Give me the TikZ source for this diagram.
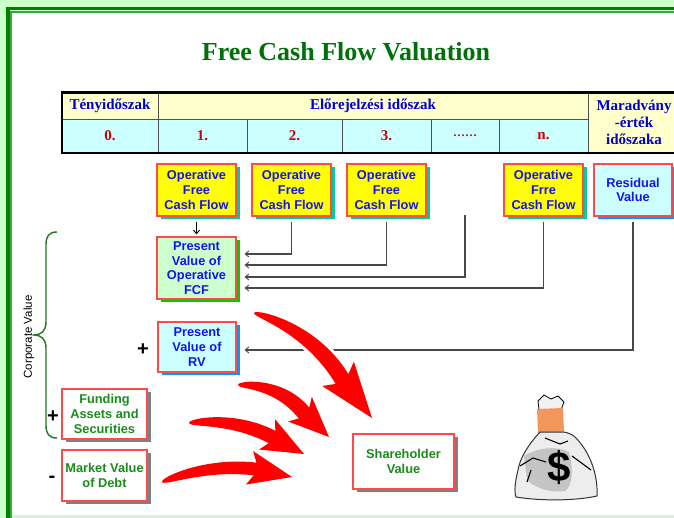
\documentclass[tikz,border=0pt]{standalone}
\usepackage{fontspec}
\setmainfont{Liberation Serif}
\setsansfont{Liberation Sans}
\usetikzlibrary{calc,arrows.meta,shadows}

\definecolor{pagegreen}{HTML}{CCFFCC}
\definecolor{framedark}{HTML}{008000}
\definecolor{framemid}{HTML}{3CA83C}
\definecolor{bottomstrip}{HTML}{DCEEDC}
\definecolor{titlegreen}{HTML}{00700A}
\definecolor{hdryellow}{HTML}{FFFFCC}
\definecolor{cellcyan}{HTML}{CCFFFF}
\definecolor{numred}{HTML}{CC0000}
\definecolor{hdrblue}{HTML}{0000CC}
\definecolor{tablegrid}{HTML}{505050}
\definecolor{boxblue}{HTML}{1414EE}
\definecolor{boxred}{HTML}{FF4A4A}
\definecolor{boxgreen}{HTML}{1A8C1A}
\definecolor{fcfyellow}{HTML}{FFFF00}
\definecolor{pvgreen}{HTML}{CCFFCC}
\definecolor{shadowteal}{HTML}{00CC99}
\definecolor{shadowgreen}{HTML}{00CC00}
\definecolor{shadowblue}{HTML}{0099FF}
\definecolor{shadowgray}{HTML}{808080}
\definecolor{bracegreen}{HTML}{1E7A1E}
\definecolor{linegray}{HTML}{484848}
\definecolor{arrowred}{HTML}{FF0000}
\definecolor{tieorange}{HTML}{F2975C}
\definecolor{baglight}{HTML}{EDEDED}
\definecolor{bagshade}{HTML}{C4C4C4}

\tikzset{
  cell/.style={draw=tablegrid, line width=0.8pt, inner sep=0pt, align=center,
    font=\bfseries\fontsize{15}{17}\selectfont},
  hdrcell/.style={cell, fill=hdryellow, text=hdrblue},
  numcell/.style={cell, fill=cellcyan, text=numred, minimum height=34pt},
  flowbox/.style={draw=boxred, line width=1.2pt, inner sep=0pt, align=center,
    font=\sffamily\bfseries\fontsize{12.8}{14.6}\selectfont},
  fcfbox/.style={flowbox, fill=fcfyellow, text=boxblue, minimum width=79pt, minimum height=52pt,
    drop shadow={shadow xshift=4pt, shadow yshift=-3pt, fill=shadowteal, opacity=1}},
  cyanbox/.style={flowbox, fill=cellcyan, text=boxblue,
    drop shadow={shadow xshift=4pt, shadow yshift=-3pt, fill=shadowblue, opacity=1}},
  pvbox/.style={flowbox, fill=pvgreen, text=boxblue,
    drop shadow={shadow xshift=4pt, shadow yshift=-3pt, fill=shadowgreen, opacity=1}},
  valbox/.style={flowbox, fill=white, text=boxgreen,
    drop shadow={shadow xshift=4pt, shadow yshift=-3pt, fill=shadowgray, opacity=1}},
  conn/.style={draw=linegray, line width=1.4pt,
    -{Straight Barb[length=3.5pt, width=6pt, line width=0.9pt]}},
  signmark/.style={font=\sffamily\bfseries\fontsize{20}{20}\selectfont, inner sep=0pt},
}

% tapered curved red arrow: tail, control, head base, tip, body half-width, head half-width
\newcommand{\flowarrow}[6]{%
  \fill[arrowred, preaction={draw=white, line width=6pt, line join=round}]
    (#1) .. controls ($(#1)!5pt!90:(#2)$) and ($(#2)!#5!90:(#3)$) .. ($(#3)!#5!90:(#4)$)
    -- ($(#3)!#6!108:(#4)$) -- (#4) -- ($(#3)!#6!-108:(#4)$)
    -- ($(#3)!#5!-90:(#4)$) .. controls ($(#2)!#5!-90:(#3)$) and ($(#1)!5pt!-90:(#2)$) .. (#1) -- cycle;}

\begin{document}
\begin{tikzpicture}[x=1pt,y=-1pt]
\useasboundingbox (0,0) rectangle (674,518);
\clip (0,0) rectangle (674,518);

% page frame
\fill[pagegreen] (0,0) rectangle (674,518);
\fill[white] (12,13) rectangle (680,515);
\fill[bottomstrip] (12,515) rectangle (680,518);
\fill[framedark] (6,7) rectangle (9.5,518);
\fill[framedark] (6,7) rectangle (680,10.5);
\fill[framemid] (10.3,11.2) rectangle (11.9,518);
\fill[framemid] (10.3,11.2) rectangle (680,12.9);

% title
\node[font=\bfseries\fontsize{26}{30}\selectfont, text=titlegreen] (title) at (346,52) {Free Cash Flow Valuation};

% period table
\node[hdrcell, minimum width=96pt, minimum height=27pt] (h0) at (110,105.5) {Tényidőszak};
\node[hdrcell, minimum width=430pt, minimum height=27pt] (h1) at (373,105.5) {Előrejelzési időszak};
\node[hdrcell, minimum width=92pt, minimum height=61pt] (h2) at (634,122.5) {Maradvány\\-érték\\időszaka};
\node[numcell, minimum width=96pt] (n0) at (110,136) {0.};
\node[numcell, minimum width=89pt] (n1) at (202.5,136) {1.};
\node[numcell, minimum width=95pt] (n2) at (294.5,136) {2.};
\node[numcell, minimum width=89pt] (n3) at (386.5,136) {3.};
\node[numcell, minimum width=68pt] (n4) at (465,136) {\fontsize{12}{14}\selectfont ……};
\node[numcell, minimum width=89pt] (n5) at (543.5,136) {n.};
\draw[black, line width=2.2pt] (62,92.5) rectangle (690,153);

% cash flow boxes
\node[fcfbox] (f1) at (196.5,190) {Operative\\Free\\Cash Flow};
\node[fcfbox] (f2) at (291.5,190) {Operative\\Free\\Cash Flow};
\node[fcfbox] (f3) at (386.5,190) {Operative\\Free\\Cash Flow};
\node[fcfbox] (f4) at (543.5,190) {Operative\\Frre\\Cash Flow};
\node[cyanbox, minimum width=78pt, minimum height=52pt] (rv) at (633,190) {Residual\\Value};
\coordinate (dotsrc) at (465,215);

% present values
\node[pvbox, minimum width=79pt, minimum height=62pt] (pvf) at (196.5,268) {Present\\Value of\\Operative\\FCF};
\node[cyanbox, minimum width=78pt, minimum height=50pt] (pvr) at (197,347) {Present\\Value of\\RV};

% other value components
\node[valbox, minimum width=85pt, minimum height=50pt] (fund) at (104.5,414) {Funding\\Assets and\\Securities};
\node[valbox, minimum width=85pt, minimum height=51pt] (debt) at (104.5,475.5) {Market Value\\of Debt};
\node[valbox, minimum width=101pt, minimum height=55pt] (sh) at (403.5,461.5) {Shareholder\\Value};

% signs
\node[signmark] (plusrv) at (143,350) {+};
\node[signmark] (plusfund) at (53,417) {+};
\node[signmark] (minusdebt) at (52,479) {-};

% corporate value brace
\draw[bracegreen, line width=1.4pt] (57,232) .. controls (49,232) and (46,236) .. (46,245)
  -- (46,322) .. controls (46,331) and (41,335) .. (34,335)
  .. controls (41,335) and (46,339) .. (46,348)
  -- (46,425) .. controls (46,434) and (49,438) .. (57,438);
\node[rotate=90, font=\sffamily\fontsize{11.5}{13}\selectfont] (corp) at (29,337) {Corporate Value};

% discounting connectors
\draw[black, line width=0.9pt, -{Straight Barb[length=3.5pt, width=6pt]}, shorten <=5pt, shorten >=2pt] (f1.south) -- (pvf.north);
\draw[conn, shorten <=5pt] (f2.south) |- ([xshift=8pt, yshift=14pt]pvf.east);
\draw[conn, shorten <=5pt] (f3.south) |- ([xshift=8pt, yshift=3pt]pvf.east);
\draw[conn] (dotsrc) |- ([xshift=8pt, yshift=-9pt]pvf.east);
\draw[conn, shorten <=5pt] (f4.south) |- ([xshift=8pt, yshift=-20pt]pvf.east);
\draw[conn, shorten <=5pt] (rv.south) |- ([xshift=8pt, yshift=-3pt]pvr.east);

% red flow arrows into shareholder value
\flowarrow{254,313}{310,326}{342,379}{372,418}{8pt}{21pt}
\flowarrow{238,385}{278,381}{304,413}{329,437}{7.5pt}{18pt}
\flowarrow{189,423}{232,416}{272,437}{304,454}{7pt}{18pt}
\flowarrow{162,482}{205,463}{255,469}{292,477}{6.5pt}{18pt}

% money bag
\filldraw[fill=white!90!gray, draw=black, line width=0.8pt] (538,401) -- (544,395) -- (551,399) -- (558,396) -- (564,402) -- (561,410) -- (539,410) -- cycle;
\fill[tieorange] (537,409) -- (563,408) -- (564,432) -- (538,433) -- cycle;
\filldraw[fill=baglight, draw=black!80, line width=1pt] (540,432)
  .. controls (528,445) and (520,458) .. (518,470)
  .. controls (515,482) and (514,492) .. (516,497)
  .. controls (540,501) and (575,501) .. (597,496)
  .. controls (598,480) and (593,455) .. (575,437)
  .. controls (572,434) and (566,432) .. (563,432) -- cycle;
\fill[bagshade] (524,456) .. controls (538,447) and (558,446) .. (569,452)
  .. controls (574,470) and (572,487) .. (565,491)
  .. controls (550,493) and (535,488) .. (527,480) -- cycle;
\draw[black, line width=1.1pt] (520,466) -- (533,458) -- (546,462);
\draw[black, line width=1.1pt] (545,438) -- (560,444) -- (568,441);
\draw[black, line width=1.1pt] (572,456) -- (591,470);
\draw[black, line width=1.1pt] (531,470) -- (527,482);
\node[font=\sffamily\bfseries\fontsize{42}{42}\selectfont] (dollar) at (559,467) {\$};
\end{tikzpicture}
\end{document}
